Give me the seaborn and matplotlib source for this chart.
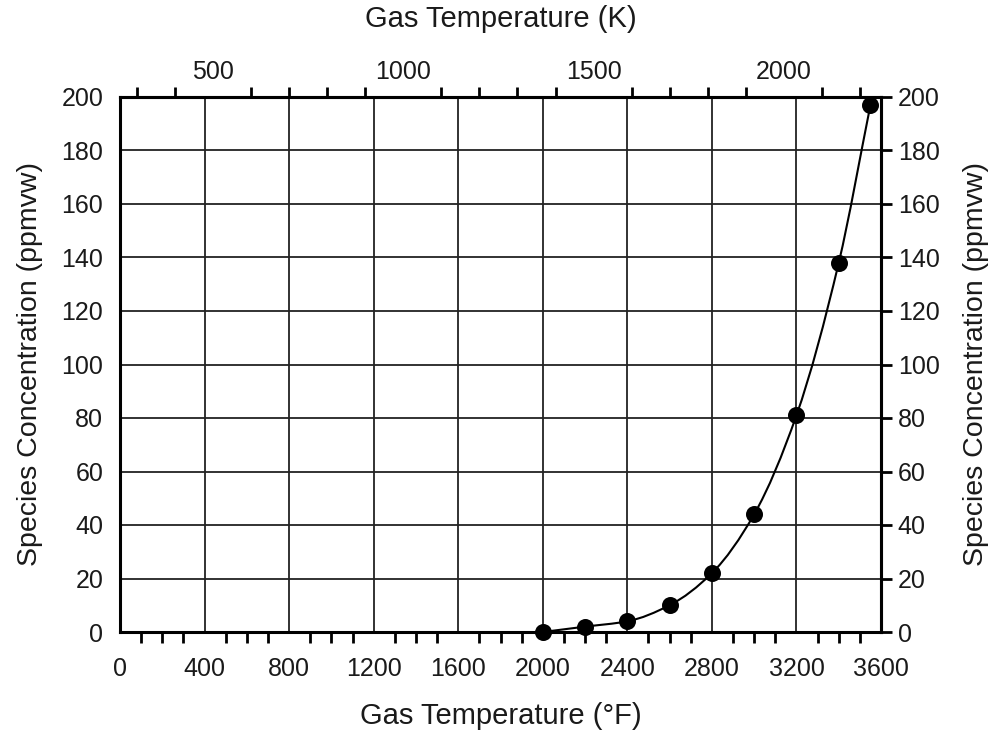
import matplotlib
matplotlib.use("Agg")
import matplotlib.pyplot as plt
from matplotlib.path import Path
from matplotlib.patches import PathPatch
import seaborn as sns
import numpy as np
import pandas as pd

temp_f = [2000, 2200, 2400, 2600, 2800, 3000, 3200, 3400, 3550]
conc = [0, 2, 4, 10, 22, 44, 81, 138, 197]

x_major = list(range(0, 3601, 400))
x_minor = list(range(0, 3601, 100))
y_major = list(range(0, 201, 20))
k_major = [500, 1000, 1500, 2000]
k_minor = list(range(300, 2201, 100))

sns.set_theme(style="white")
plt.rcParams['font.family'] = ['Liberation Sans', 'DejaVu Sans']

TXT = "#1a1a1a"
TICK_FS = 18
LAB_FS = 21

df = pd.DataFrame({"F": temp_f, "C": conc})

fig = plt.figure(figsize=(9.96, 7.33), dpi=100)
ax = fig.add_axes([120/996, 1-632/733, (881-120)/996, (632-97)/733])

# smooth connecting curve (monotone cubic Bezier through the data points)
xs = np.asarray(temp_f, float)
ys = np.asarray(conc, float)
h = np.diff(xs)
d = np.diff(ys) / h
m = np.empty_like(xs)
m[0] = d[0]
m[-1] = d[-1]
for i in range(1, len(xs) - 1):
    if d[i-1] * d[i] <= 0:
        m[i] = 0.0
    else:
        w1 = 2*h[i] + h[i-1]
        w2 = h[i] + 2*h[i-1]
        m[i] = (w1 + w2) / (w1/d[i-1] + w2/d[i])
verts = [(xs[0], ys[0])]
codes = [Path.MOVETO]
for i in range(len(xs) - 1):
    verts += [(xs[i] + h[i]/3, ys[i] + m[i]*h[i]/3),
              (xs[i+1] - h[i]/3, ys[i+1] - m[i+1]*h[i]/3),
              (xs[i+1], ys[i+1])]
    codes += [Path.CURVE4] * 3
ax.add_patch(PathPatch(Path(verts, codes), facecolor="none", edgecolor="black",
                       linewidth=1.5, transform=ax.transData, zorder=4, clip_on=False))

sns.scatterplot(data=df, x="F", y="C", ax=ax, color="black", s=150, edgecolor="black",
                linewidth=0, zorder=5, clip_on=False, legend=False)

ax.set_xlim(0, 3600)
ax.set_ylim(0, 200)
ax.set_xticks(x_major)
ax.set_xticks(x_minor, minor=True)
ax.set_yticks(y_major)
ax.grid(True, which="major", color="#222222", linewidth=1.3)
for s in ax.spines.values():
    s.set_color("black")
    s.set_linewidth(2.2)
ax.tick_params(axis="both", which="major", direction="out", length=8, width=2,
               color="black", labelsize=TICK_FS, labelcolor=TXT, pad=4)
ax.tick_params(axis="x", which="major", pad=10)
ax.tick_params(axis="x", which="minor", direction="out", length=8, width=2, color="black",
               bottom=True)
ax.set_xlabel("Gas Temperature (°F)", fontsize=LAB_FS, color=TXT, labelpad=15)
ax.set_ylabel("Species Concentration (ppmvw)", fontsize=LAB_FS - 0.5, color=TXT, labelpad=13)

def f2k(f):
    return (np.asarray(f) - 32.0) * 5.0 / 9.0 + 273.15

def k2f(k):
    return (np.asarray(k) - 273.15) * 9.0 / 5.0 + 32.0

top = ax.secondary_xaxis("top", functions=(f2k, k2f))
top.set_xticks(k_major)
top.set_xticks(k_minor, minor=True)
top.tick_params(axis="x", which="major", direction="out", length=0, labelsize=TICK_FS,
                labelcolor=TXT, pad=9)
top.tick_params(axis="x", which="minor", direction="out", length=7, width=2, color="black")
top.spines["top"].set_linewidth(2.2)
top.set_xlabel("Gas Temperature (K)", fontsize=LAB_FS, color=TXT, labelpad=24)

right = ax.secondary_yaxis("right")
right.set_yticks(y_major)
right.tick_params(axis="y", which="major", direction="out", length=8, width=2,
                  color="black", labelsize=TICK_FS, labelcolor=TXT, pad=4)
right.spines["right"].set_linewidth(2.2)
right.set_ylabel("Species Concentration (ppmvw)", fontsize=LAB_FS - 0.5, color=TXT,
                 rotation=90, labelpad=17)

fig.savefig("out.png", dpi=100, facecolor="white")
